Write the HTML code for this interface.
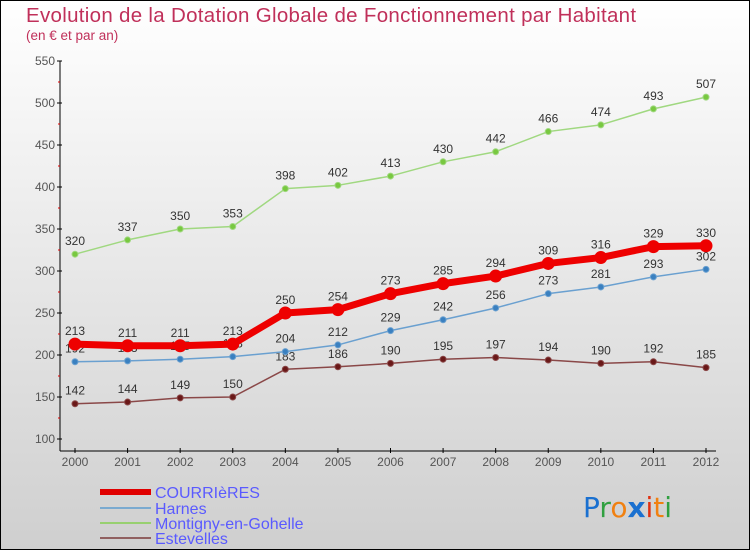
<!DOCTYPE html>
<html><head><meta charset="utf-8"><style>
body{margin:0;width:750px;height:550px;overflow:hidden}
svg{display:block;font-family:"Liberation Sans",sans-serif}
</style></head><body>
<svg id="c" width="750" height="550">
<defs><linearGradient id="bg" x1="0" y1="0" x2="0" y2="1"><stop offset="0" stop-color="#ffffff"/><stop offset="1" stop-color="#cfcfcf"/></linearGradient></defs>
<rect x="0.5" y="0.5" width="749" height="549" fill="url(#bg)" stroke="#000"/>
<text x="26" y="22" font-size="20.5" letter-spacing="0.3" fill="#c0305a">Evolution de la Dotation Globale de Fonctionnement par Habitant</text>
<text x="26" y="40" font-size="13.5" fill="#c0305a">(en € et par an)</text>
<g id="axes"></g><g id="series"></g>
<g>
<line x1="100" y1="492" x2="151" y2="492" stroke="#e00000" stroke-width="6"/>
<text x="155" y="498" font-size="16" fill="#5a5aff">COURRIèRES</text>
<line x1="100" y1="508" x2="151" y2="508" stroke="#7aaad0" stroke-width="2"/>
<text x="155" y="514" font-size="16" fill="#5a5aff">Harnes</text>
<line x1="100" y1="523" x2="151" y2="523" stroke="#98d070" stroke-width="2"/>
<text x="155" y="529" font-size="16" fill="#5a5aff">Montigny-en-Gohelle</text>
<line x1="100" y1="538" x2="151" y2="538" stroke="#906060" stroke-width="2"/>
<text x="155" y="544" font-size="16" fill="#5a5aff">Estevelles</text>
</g>
<g font-size="28" font-family="'DejaVu Sans',sans-serif">
<text x="583" y="517"><tspan fill="#1a70d0">P</tspan><tspan fill="#30a040">r</tspan><tspan fill="#f08010">o</tspan><tspan fill="#1a70d0" font-weight="bold">x</tspan><tspan fill="#e03010">i</tspan><tspan fill="#f08010">t</tspan><tspan fill="#30a040">i</tspan></text>
</g>
</svg>
<script>
const years=[2000,2001,2002,2003,2004,2005,2006,2007,2008,2009,2010,2011,2012];
const yTicks=[100,150,200,250,300,350,400,450,500,550];
const courrieres=[213,211,211,213,250,254,273,285,294,309,316,329,330];
const harnes=[192,193,195,198,204,212,229,242,256,273,281,293,302];
const montigny=[320,337,350,353,398,402,413,430,442,466,474,493,507];
const estevelles=[142,144,149,150,183,186,190,195,197,194,190,192,185];
const NS='http://www.w3.org/2000/svg';
const X=i=>75+i*(706-75)/(years.length-1);
const Y=v=>439-(v-100)*(378/450);
function mk(tag,attrs,parent,text){const e=document.createElementNS(NS,tag);for(const k in attrs)e.setAttribute(k,attrs[k]);if(text!==undefined)e.textContent=text;parent.appendChild(e);return e;}
const ax=document.getElementById('axes');
let a=mk('line',{x1:60,y1:Y(550),x2:60,y2:451,stroke:'#000'},ax);


a=mk('line',{x1:60,y1:451,x2:716,y2:451,stroke:'#000'},ax);


yTicks.forEach((t,i)=>{
 mk('line',{x1:57,y1:Y(t),x2:62,y2:Y(t),stroke:'#000'},ax);
 const tx=mk('text',{x:55,y:Y(t)+4,'font-size':12,fill:'#555','text-anchor':'end'},ax,t);
 
 
 if(i<yTicks.length-1)mk('line',{x1:58,y1:Y(t+25),x2:60,y2:Y(t+25),stroke:'#e00000'},ax);
});
years.forEach((yr,i)=>{
 mk('line',{x1:X(i),y1:448,x2:X(i),y2:453,stroke:'#000'},ax);
 const tx=mk('text',{x:X(i),y:466,'font-size':12,fill:'#555','text-anchor':'middle'},ax,yr);
 
 
});
const sg=document.getElementById('series');
function series(vals,color,dot,w,r,name){
 const g=mk('g',{},sg);
 
 
 const p=mk('polyline',{points:vals.map((v,i)=>X(i)+','+Y(v)).join(' '),fill:'none',stroke:color,'stroke-width':w,'stroke-linejoin':'round'},g);
 
 
 vals.forEach((v,i)=>{
  const c=mk('circle',{cx:X(i),cy:Y(v),r:r,fill:dot,stroke:color,'stroke-width':1},g);
  
  
  const t=mk('text',{x:X(i),y:Y(v)-9,'font-size':12,fill:'#333','text-anchor':'middle'},g,v);
  
  
 });
}
series(estevelles,'#8a4848','#6a1818',1.5,3,'estevelles');
series(harnes,'#6aa0d0','#3a80c0',1.5,3,'harnes');
series(montigny,'#a0d880','#78c840',1.5,3,'montigny');
series(courrieres,'#ee0000','#ee0000',7,6,'courrieres');
</script>
</body></html>
